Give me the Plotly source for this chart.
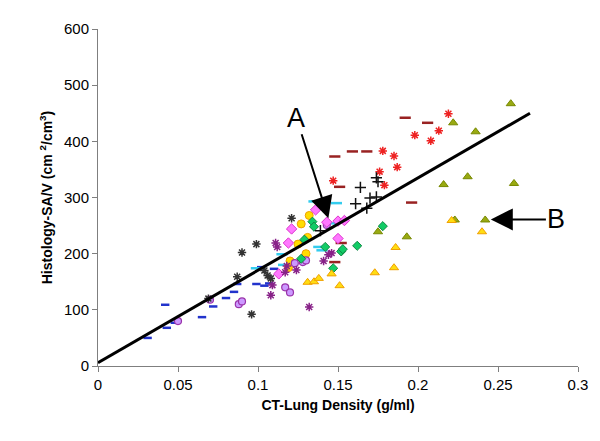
import plotly.graph_objects as go

# ---- data ----
blue_x = [0.031, 0.042, 0.043, 0.048, 0.065, 0.072, 0.080, 0.085, 0.087, 0.099, 0.102, 0.110, 0.104, 0.107]
blue_y = [50, 109, 68, 77, 87, 106, 121, 132, 146, 146, 176, 173, 143, 147]

cyan_x = [0.135, 0.149, 0.099, 0.115, 0.116, 0.146, 0.138, 0.140]
cyan_y = [293, 290, 174, 199, 180, 254, 212, 206]

darkred_x = [0.192, 0.206, 0.159, 0.168, 0.148, 0.151, 0.196, 0.152, 0.148]
darkred_y = [442, 433, 382, 382, 373, 319, 291, 219, 185]

red_x = [0.219, 0.213, 0.198, 0.208, 0.178, 0.185, 0.187, 0.176, 0.179, 0.147]
red_y = [449, 419, 411, 401, 383, 374, 354, 346, 322, 330]

plus_x = [0.174, 0.175, 0.164, 0.170, 0.174, 0.161, 0.168, 0.139]
plus_y = [335, 328, 318, 299, 301, 289, 281, 241]

olive_x = [0.258, 0.222, 0.236, 0.216, 0.231, 0.260, 0.223, 0.242, 0.193, 0.175]
olive_y = [467, 433, 417, 323, 337, 325, 260, 260, 230, 239]

ytri_x = [0.221, 0.240, 0.186, 0.173, 0.185, 0.146, 0.131, 0.135, 0.138, 0.151]
ytri_y = [259, 239, 211, 166, 175, 164, 149, 150, 156, 143]

green_x = [0.134, 0.135, 0.129, 0.127, 0.142, 0.152, 0.153, 0.162, 0.147, 0.178]
green_y = [257, 248, 225, 191, 212, 204, 208, 214, 174, 249]

ycirc_x = [0.132, 0.127, 0.125, 0.131, 0.130, 0.120, 0.119]
ycirc_y = [268, 253, 217, 229, 200, 187, 175]

pink_x = [0.136, 0.121, 0.143, 0.150, 0.154, 0.150, 0.119, 0.113]
pink_y = [278, 244, 256, 258, 259, 227, 219, 164]

pcirc_x = [0.050, 0.070, 0.088, 0.090, 0.123, 0.128, 0.130, 0.143, 0.117, 0.120]
pcirc_y = [80, 118, 110, 115, 183, 185, 188, 251, 140, 131]

pstar_x = [0.111, 0.112, 0.118, 0.124, 0.117, 0.109, 0.108, 0.132, 0.146, 0.144, 0.141]
pstar_y = [219, 212, 178, 171, 167, 144, 126, 105, 201, 198, 187]

gstar_x = [0.069, 0.087, 0.090, 0.099, 0.096, 0.121, 0.104, 0.106, 0.108]
gstar_y = [120, 159, 202, 217, 92, 263, 170, 161, 156]

fit_x = [0.0, 0.27]
fit_y = [6, 450]

# annotations: text sits at (ax, ay), arrow points to (x, y)
note_A = {"text": "A", "x": 0.144, "y": 263, "ax": 0.124, "ay": 442}
note_B = {"text": "B", "x": 0.2455, "y": 261, "ax": 0.2865, "ay": 261}

FONT = "Liberation Sans, Arial, sans-serif"

fig = go.Figure()

def add(x, y, symbol, size, color, line_color, lw):
    fig.add_trace(go.Scatter(
        x=x, y=y, mode="markers", showlegend=False,
        marker=dict(symbol=symbol, size=size, color=color,
                    line=dict(color=line_color, width=lw))))

add(blue_x, blue_y, "line-ew-open", 6, "#2233CC", "#2233CC", 2.5)
add(cyan_x, cyan_y, "line-ew-open", 8, "#33CCEE", "#33CCEE", 2.5)
add(darkred_x, darkred_y, "line-ew-open", 8, "#992222", "#992222", 2.5)
add(ycirc_x, ycirc_y, "circle", 8, "#FFDD00", "#F0A000", 1)
add(pcirc_x, pcirc_y, "circle", 7, "#CC99FF", "#9933AA", 1.2)
add(pink_x, pink_y, "diamond", 8, "#FF77FF", "#DD33CC", 1)
add(green_x, green_y, "diamond", 7, "#11CC66", "#118844", 1)
add(olive_x, olive_y, "triangle-up", 8, "#99AA11", "#778800", 1)
add(ytri_x, ytri_y, "triangle-up", 8, "#FFDD11", "#F0A000", 1)
add(red_x, red_y, "asterisk-open", 7, "#EE2222", "#EE2222", 1.5)
add(pstar_x, pstar_y, "asterisk-open", 7, "#882288", "#882288", 1.5)
add(gstar_x, gstar_y, "asterisk-open", 7, "#333333", "#333333", 1.5)
add(plus_x, plus_y, "cross-thin-open", 8, "#111111", "#111111", 1.5)

fig.add_trace(go.Scatter(x=fit_x, y=fit_y, mode="lines", showlegend=False,
                         line=dict(color="black", width=3)))

for n in (note_A, note_B):
    fig.add_annotation(x=n["x"], y=n["y"], ax=n["ax"], ay=n["ay"],
                       xref="x", yref="y", axref="x", ayref="y", text=n["text"],
                       showarrow=True, arrowhead=2, arrowsize=2.2,
                       arrowwidth=2, arrowcolor="black", standoff=0,
                       font=dict(family=FONT, size=27, color="black"))

axis_common = dict(showline=True, linecolor="#7f7f7f", linewidth=1,
                   ticks="outside", ticklen=5, tickcolor="#7f7f7f",
                   showgrid=False, zeroline=False, automargin=False,
                   tickfont=dict(family=FONT, size=15, color="black"))

fig.update_xaxes(range=[0, 0.3], dtick=0.05, tick0=0,
                 title=dict(text="<b>CT-Lung Density (g/ml)</b>", standoff=8,
                            font=dict(family=FONT, size=14, color="black")),
                 **axis_common)
fig.update_yaxes(range=[0, 600], dtick=100, tick0=0,
                 title=dict(text="<b>Histology-SA/V (cm <sup>2</sup>/cm<sup>3</sup>)</b>", standoff=8,
                            font=dict(family=FONT, size=14, color="black")),
                 **axis_common)

# page body adds an 8px offset; margins compensate so the plot area lands
# at x 98..578, y 29..366 in the browser window
fig.update_layout(width=600, height=441, plot_bgcolor="white", paper_bgcolor="white",
                  margin=dict(l=90, r=30, t=21, b=83))

fig.write_html("out.html")
